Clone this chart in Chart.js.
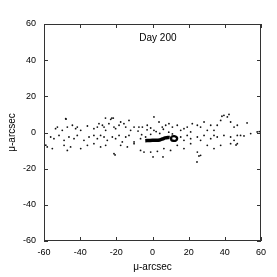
<!DOCTYPE html>
<html>
<head>
<meta charset="utf-8">
<script src="https://cdn.jsdelivr.net/npm/chart.js@4"></script>
<style>
  html, body { margin: 0; padding: 0; background: #fff; }
  canvas { display: block; }
</style>
</head>
<body>
<canvas id="day200" width="277" height="277"></canvas>
<script>
// scattered positions (µ-arcsec)
const dotX = [
  -52.6, -53.6, -49.9, -47.1, -44.3, -42.5, -41.6, -39.7, -36.0, -32.4, -30.5, -29.6, -27.7, -26.8, -25.9,
  -24.1, -23.1, -21.3, -20.4, -18.5, -17.6, -15.8, -14.8, -13.0, -12.1, -10.2, -7.5, -5.6, -2.9, -1.0,
  0.8, 3.6, 5.4, 7.3, 9.1, 11.0, 13.7, 15.6, 17.4, 19.2, 21.1, 22.0, 24.8, 26.6, 28.5,
  30.3, 32.2, 34.0, 35.8, 37.7, 39.5, 41.4, 43.2, 45.1, 46.9, 48.7, 50.6, 54.3, 57.9,
  -21.7, -48.0, 0.8, -26.0, -22.5, 38.4, 42.3, -47.8, 52.3,
  -56.3, -54.5, -51.7, -48.9, -46.2, -43.4, -41.6, -37.9, -35.1, -32.4, -30.5, -28.7, -26.8, -25.0, -22.2,
  -20.4, -18.5, -16.7, -14.8, -13.0, -10.2, -6.6, -3.8, 15.6, 17.4, 19.2, 21.1, 24.8, 26.6, 28.5,
  32.2, 34.0, 35.8, 39.5, 43.2, 45.1, 46.9,
  -58.2, -55.4, -48.9, -47.1, -45.3, -39.7, -36.0, -32.4, -28.7, -25.9, -21.3, -17.6, -13.9, -10.2, -6.6,
  -4.7, -1.0, 2.7, 6.3, 10.0, 13.7, 17.4, 21.1, 24.8, 26.6, 30.3, 34.0, 37.7, 43.2, 46.9,
  -20.7, 0.3, 5.8, 24.6, 46.2, 25.7, -59.0, 59.0,
  -3.0, -1.0, 2.0, 4.0, 6.0, 9.0, 11.0, -6.0, -8.0
];
const dotY = [
  3.0, 2.1, 1.2, 3.0, 4.0, 2.1, 3.0, 1.2, 3.6, 2.1, 3.0, 4.9, 4.0, 3.0, 1.2,
  4.9, 7.3, 3.0, 2.1, 4.0, 5.8, 4.9, 3.0, 6.7, 1.2, 3.0, 3.0, 3.0, 4.0, 2.5,
  1.2, 5.8, 3.0, 4.0, 4.9, 3.0, 4.0, 1.2, 2.1, 3.0, 0.3, 4.9, 4.0, 3.0, 5.8,
  1.2, 4.0, 1.2, 4.0, 6.7, 9.5, 8.6, 5.8, 3.0, 4.0, -1.6, -1.9, -0.6, 0.3,
  8.0, 7.6, 8.6, 8.0, 8.0, 9.0, 10.0, 7.4, 5.3,
  -2.5, -3.4, -1.6, -4.3, -2.5, -3.4, -1.6, -4.3, -2.5, -1.6, -3.4, -1.6, -2.5, -4.3, -2.5,
  -3.4, -1.6, -5.2, -2.5, -1.6, -5.2, -3.4, -2.5, -2.5, -4.3, -1.6, -3.4, -2.5, -4.3, -1.6,
  -3.4, -1.6, -2.5, -1.6, -2.5, -4.3, -1.6,
  -8.0, -8.9, -7.1, -9.9, -8.0, -8.9, -7.1, -6.2, -8.0, -7.1, -11.7, -7.1, -8.0, -6.2, -9.9,
  -10.8, -10.8, -10.4, -8.9, -9.9, -7.1, -8.9, -6.2, -10.8, -12.6, -7.1, -8.9, -7.1, -6.2, -6.2,
  -12.4, -13.5, -13.5, -16.3, -6.9, -13.0, -7.0, 0.5,
  1.5, -1.0, 0.5, -0.5, 1.8, 0.2, -0.8, -1.2, 0.8
];

// dense central arc and the small loop at its end
const arcX = [-4.0, -2.0, 0.0, 2.0, 4.0, 5.5, 7.0, 8.5, 9.5];
const arcY = [-4.5, -4.4, -4.3, -4.3, -4.1, -3.6, -3.0, -2.7, -2.8];
const loopX = [10.5, 12.0, 13.3, 13.6, 13.0, 11.5, 10.5, 10.3, 10.5];
const loopY = [-2.2, -2.0, -2.6, -3.5, -4.4, -4.6, -4.2, -3.2, -2.2];

const axisTicks = [-60, -40, -20, 0, 20, 40, 60];
const panelTitle = 'Day 200';
const axisName = 'μ-arcsec';

const toPts = (xs, ys) => xs.map((x, i) => ({ x: x, y: ys[i] }));

// gnuplot style frame with inward ticks on every side
const frameTicks = {
  id: 'frameTicks',
  afterDraw(chart) {
    const c = chart.ctx, a = chart.chartArea;
    const sx = chart.scales.x, sy = chart.scales.y;
    const len = 4;
    c.save();
    c.strokeStyle = '#333';
    c.lineWidth = 1;
    c.strokeRect(a.left + 0.5, a.top + 0.5, a.right - a.left - 1, a.bottom - a.top - 1);
    c.beginPath();
    axisTicks.forEach(v => {
      const px = Math.round(sx.getPixelForValue(v)) + 0.5;
      c.moveTo(px, a.bottom); c.lineTo(px, a.bottom - len);
      c.moveTo(px, a.top); c.lineTo(px, a.top + len);
      const py = Math.round(sy.getPixelForValue(v)) + 0.5;
      c.moveTo(a.left, py); c.lineTo(a.left + len, py);
      c.moveTo(a.right, py); c.lineTo(a.right - len, py);
    });
    c.stroke();
    c.fillStyle = '#000';
    c.font = '10px "Liberation Sans", Arial, sans-serif';
    c.textAlign = 'center';
    c.textBaseline = 'middle';
    c.fillText(panelTitle, sx.getPixelForValue(3), sy.getPixelForValue(52));
    c.restore();
  }
};

new Chart(document.getElementById('day200'), {
  type: 'scatter',
  data: {
    datasets: [
      {
        data: toPts(dotX, dotY),
        pointRadius: 0.9,
        pointBorderWidth: 0,
        backgroundColor: '#111'
      },
      {
        data: toPts(arcX, arcY),
        showLine: true,
        borderColor: '#000',
        borderWidth: 3.5,
        pointRadius: 0,
        tension: 0.3
      },
      {
        data: toPts(loopX, loopY),
        showLine: true,
        borderColor: '#000',
        borderWidth: 2.4,
        pointRadius: 0,
        tension: 0.3
      }
    ]
  },
  options: {
    responsive: false,
    animation: false,
    layout: { padding: { top: 24, right: 16, left: 0, bottom: 0 } },
    plugins: { legend: { display: false }, tooltip: { enabled: false } },
    scales: {
      x: {
        min: -60, max: 60,
        afterBuildTicks: s => { s.ticks = axisTicks.map(v => ({ value: v })); },
        afterFit: s => { s.height = 36; },
        grid: { display: false, drawTicks: false },
        border: { display: false },
        ticks: { color: '#000', padding: 6, maxRotation: 0, font: { family: 'Liberation Sans', size: 9 } },
        title: { display: true, text: axisName, color: '#000', padding: { top: 2, bottom: 4 }, font: { family: 'Liberation Sans', size: 10 } }
      },
      y: {
        min: -60, max: 60,
        afterBuildTicks: s => { s.ticks = axisTicks.map(v => ({ value: v })); },
        afterFit: s => { s.width = 44; },
        grid: { display: false, drawTicks: false },
        border: { display: false },
        ticks: { color: '#000', padding: 8, font: { family: 'Liberation Sans', size: 9 } },
        title: { display: true, text: axisName, color: '#000', padding: { top: 6, bottom: 0 }, font: { family: 'Liberation Sans', size: 10 } }
      }
    }
  },
  plugins: [frameTicks]
});
</script>
</body>
</html>
